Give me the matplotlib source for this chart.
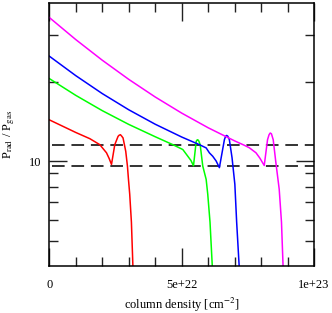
import matplotlib
matplotlib.use('Agg')
import matplotlib.pyplot as plt
from matplotlib.ticker import FixedLocator, NullFormatter, FuncFormatter

plt.rcParams['font.family'] = ['Liberation Serif', 'DejaVu Serif']
plt.rcParams['mathtext.fontset'] = 'stix'

# column density in units of 1e22 cm^-2, P_rad / P_gas
red_n = [0.0, 1.0, 1.532, 1.908, 2.03, 2.160, 2.26, 2.349, 2.473, 2.597, 2.64, 2.687, 2.735, 2.785,
         2.887, 2.951, 2.99, 3.037, 3.101, 3.161]
red_p = [14.35, 12.85, 12.17, 11.55, 11.16, 10.76, 10.24, 9.72, 11.55, 12.42, 12.55, 12.60, 12.44, 12.25,
         10.90, 9.58, 8.53, 7.50, 5.87, 3.9]

green_n = [0.0, 1.0, 2.0, 3.0, 4.0, 4.667, 5.043, 5.231, 5.35, 5.446, 5.548, 5.58, 5.608, 5.65, 5.698,
           5.796, 5.924, 5.984, 6.07, 6.161]
green_p = [20.58, 17.77, 15.55, 13.79, 12.38, 11.55, 11.07, 10.44, 10.06, 9.61, 11.89, 12.03, 12.06, 11.91, 11.55,
           9.58, 8.53, 7.50, 5.87, 3.9]

blue_n = [0.0, 1.0, 2.0, 3.0, 4.0, 5.0, 5.67, 5.924, 6.048, 6.172, 6.30, 6.424, 6.613, 6.66, 6.699, 6.74,
          6.801, 6.902, 7.008, 7.076, 7.177]
blue_p = [25.03, 21.11, 18.05, 15.67, 13.81, 12.35, 11.55, 11.23, 10.75, 10.44, 10.02, 9.45, 12.06, 12.44, 12.52, 12.44,
          12.06, 10.30, 8.17, 5.87, 3.9]

magenta_n = [0.0, 1.0, 2.0, 3.0, 4.0, 5.0, 6.0, 7.0, 7.366, 7.55, 7.806, 7.95, 8.118, 8.242, 8.30, 8.344, 8.39,
             8.457, 8.558, 8.683, 8.769, 8.833]
magenta_p = [35.09, 28.93, 24.16, 20.44, 17.52, 15.22, 13.39, 11.94, 11.49, 11.25, 10.76, 10.28, 9.63, 12.06, 12.6, 12.79, 12.7,
             12.06, 9.86, 7.83, 5.87, 3.9]

dash_levels = [11.49, 9.58]
dash_start = 0.1  # 1e21

curves = [(red_n, red_p, '#ff0000'), (green_n, green_p, '#00ff00'),
          (blue_n, blue_p, '#0000ff'), (magenta_n, magenta_p, '#ff00ff')]

fig = plt.figure(figsize=(3.32, 3.13), dpi=100)
ax = fig.add_axes([0.1485, 0.150, 0.7975, 0.842])

for lev in dash_levels:
    ax.plot([dash_start * 1e22, 1e23], [lev, lev], color='#333333', lw=1.4, dashes=(6.5, 3.5))

for n, p, c in curves:
    ax.plot([v * 1e22 for v in n], p, color=c, lw=1.1)

ax.set_yscale('log')
ax.set_xlim(0, 1e23)
ax.set_ylim(4, 40)

ax.xaxis.set_major_locator(FixedLocator([0, 5e22, 1e23]))
ax.xaxis.set_minor_locator(FixedLocator([i * 1e22 for i in range(1, 10)]))
ax.xaxis.set_major_formatter(FuncFormatter(lambda x, pos: {0: '0', 1: '5e+22', 2: '1e+23'}.get(pos, '')))
ax.yaxis.set_major_locator(FixedLocator([10]))
ax.yaxis.set_minor_locator(FixedLocator([5, 6, 7, 8, 9, 20, 30]))
ax.yaxis.set_major_formatter(FuncFormatter(lambda y, pos: '10'))
ax.yaxis.set_minor_formatter(NullFormatter())

ax.tick_params(which='both', direction='in', top=True, right=True, width=1.0, colors='#222222', labelcolor='black', labelsize=9)
ax.tick_params(which='major', length=13)
ax.tick_params(which='minor', length=6.5)
ax.tick_params(axis='x', which='major', pad=9)
ax.tick_params(axis='y', which='major', pad=6)

for s in ax.spines.values():
    s.set_linewidth(1.1)

ax.set_xlabel('column density [cm$^{-2}$]', fontsize=9, labelpad=4)
ax.set_ylabel(r'P$_{\mathrm{rad}}$ / P$_{\mathrm{gas}}$', fontsize=9, labelpad=8)

fig.savefig('out.png', dpi=100)
